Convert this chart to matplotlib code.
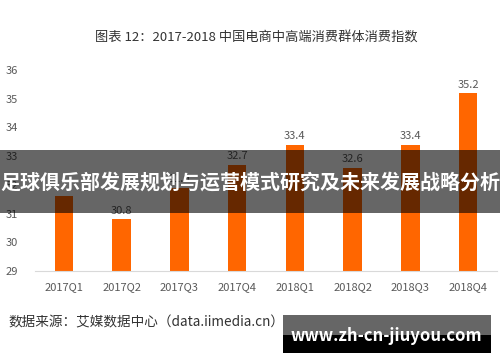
import matplotlib
matplotlib.use("Agg")
import matplotlib.pyplot as plt
from matplotlib.patches import Rectangle

plt.rcParams["font.family"] = ["Noto Sans CJK SC", "DejaVu Sans"]

quarters = ["2017Q1", "2017Q2", "2017Q3", "2017Q4",
            "2018Q1", "2018Q2", "2018Q3", "2018Q4"]
index_values = [31.6, 30.8, 31.9, 32.7, 33.4, 32.6, 33.4, 35.2]
shown_labels = [None, "30.8", "31.9", "32.7", "33.4", "32.6", "33.4", "35.2"]
y_ticks = [29, 30, 31, 32, 33, 34, 35, 36]

title = "图表 12：2017-2018 中国电商中高端消费群体消费指数"
source = "数据来源：艾媒数据中心（data.iimedia.cn）"
banner = "足球俱乐部发展规划与运营模式研究及未来发展战略分析"
site = "www.zh-cn-jiuyou.com"

fig = plt.figure(figsize=(5, 3.62), dpi=100)
ax = fig.add_axes([0.07, 0.2514, 0.924, 0.555])

x = range(len(quarters))
ax.bar(x, [v - 29 for v in index_values], bottom=29, width=0.32, color="#FF6600")
for xi, v, lab in zip(x, index_values, shown_labels):
    if lab:
        ax.text(xi, v + 0.12, lab, ha="center", va="bottom", fontsize=8, color="#595959")

ax.set_xlim(-0.5, len(quarters) - 0.5)
ax.set_ylim(29, 36)
ax.set_yticks(y_ticks)
ax.set_xticks(list(x))
ax.set_xticklabels(quarters)
ax.tick_params(length=0, labelsize=8, colors="#595959")
ax.tick_params(axis="x", pad=8)
ax.tick_params(axis="y", pad=12)
for side in ["top", "right", "left"]:
    ax.spines[side].set_visible(False)
ax.spines["bottom"].set_color("#d9d9d9")

fig.text(0.512, 0.895, title, ha="center", va="center", fontsize=9.5, color="#333333")
fig.text(0.016, 0.108, source, ha="left", va="center", fontsize=9.8, color="#333333")

# dark overlay banner across the chart
fig.patches.append(Rectangle((0, 1 - 212.7 / 362), 1, 62.7 / 362, transform=fig.transFigure,
                             facecolor="black", alpha=0.6, edgecolor="none", zorder=5))
fig.text(0.5, 1 - 182 / 362, banner, ha="center", va="center", fontsize=14.4,
         color="white", fontweight="bold", zorder=6)

# watermark box
fig.patches.append(Rectangle((283 / 500, 1 - 335 / 362), 208 / 500, 20 / 362, transform=fig.transFigure,
                             facecolor="#666666", edgecolor="none", zorder=5))
fig.patches.append(Rectangle((283 / 500, 1 - 353 / 362), 208 / 500, 18 / 362, transform=fig.transFigure,
                             facecolor="black", edgecolor="none", zorder=5))
fig.text(386 / 500, 1 - 336 / 362, site, ha="center", va="center", fontsize=12,
         color="white", fontweight="bold", zorder=6)

fig.savefig("out.png", dpi=100)
